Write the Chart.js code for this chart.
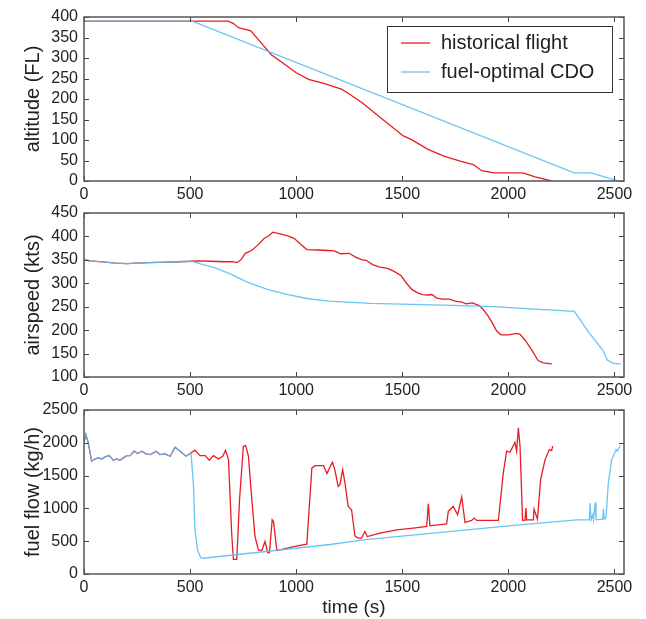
<!DOCTYPE html>
<html>
<head>
<meta charset="utf-8">
<script src="https://cdn.jsdelivr.net/npm/chart.js@4.4.1/dist/chart.umd.min.js"></script>
<style>
  html, body { margin: 0; padding: 0; background: #fff; }
  #wrap { position: relative; width: 646px; height: 619px; }
  canvas { position: absolute; left: 0; }
</style>
</head>
<body>
<div id="wrap">
  <canvas id="alt" style="top:0px" width="646" height="210"></canvas>
  <canvas id="spd" style="top:196px" width="646" height="210"></canvas>
  <canvas id="ff" style="top:393px" width="646" height="226"></canvas>
</div>
<script>
const seriesNames = ['historical flight', 'fuel-optimal CDO'];

// altitude (FL)
const altHistT = [0, 680, 705, 728, 760, 786, 830, 883, 950, 1000, 1058, 1130, 1213, 1240, 1311, 1408, 1505, 1544, 1621, 1699, 1777, 1835, 1874, 1932, 2068, 2126, 2204];
const altHistV = [390, 390, 384, 374, 370, 366, 340, 308, 283, 264, 248, 238, 224, 216, 191, 150, 110, 101, 77, 60, 48, 40, 25, 20, 20, 10, 0];
const altCdoT = [0, 510, 2310, 2390, 2520];
const altCdoV = [390, 390, 20, 20, 0];

// airspeed (kts)
const spdHistT = [0, 30, 100, 150, 200, 250, 300, 400, 450, 500, 530, 600, 660, 700, 720, 740, 760, 790, 820, 850, 870, 890, 930, 960, 990, 1020, 1050, 1100, 1150, 1180, 1210, 1250, 1280, 1310, 1330, 1360, 1390, 1430, 1460, 1495, 1520, 1545, 1570, 1595, 1620, 1640, 1660, 1690, 1720, 1750, 1780, 1800, 1830, 1860, 1880, 1905, 1925, 1945, 1965, 2000, 2040, 2055, 2080, 2110, 2140, 2165, 2205];
const spdHistV = [350, 348, 345, 343, 342, 343, 344, 345, 346, 347, 348, 347, 346, 346, 344, 350, 364, 370, 382, 396, 401, 409, 405, 401, 396, 384, 372, 371, 370, 369, 363, 364, 356, 350, 349, 340, 335, 332, 326, 316, 300, 287, 280, 276, 275, 276, 269, 266, 266, 262, 260, 256, 258, 253, 245, 230, 215, 198, 190, 190, 193, 191, 178, 158, 135, 130, 128];
const spdCdoT = [0, 30, 100, 150, 200, 250, 300, 400, 450, 510, 560, 612, 689, 767, 864, 961, 1058, 1155, 1350, 1544, 1738, 1932, 2126, 2311, 2379, 2447, 2466, 2495, 2530];
const spdCdoV = [350, 348, 345, 343, 342, 343, 344, 345, 346, 347, 340, 334, 320, 303, 287, 276, 267, 262, 257, 255, 253, 250, 245, 240, 195, 156, 136, 129, 128];

// fuel flow (kg/h)
const ffHistT = [0, 9, 20, 36, 52, 68, 83, 99, 119, 138, 154, 170, 185, 201, 217, 236, 252, 272, 292, 314, 340, 358, 382, 406, 429, 453, 481, 500, 523, 547, 571, 591, 610, 634, 654, 667, 681, 696, 704, 720, 733, 751, 762, 775, 791, 806, 822, 838, 853, 866, 874, 887, 893, 909, 924, 987, 1050, 1074, 1089, 1129, 1145, 1157, 1171, 1182, 1198, 1206, 1219, 1230, 1245, 1261, 1277, 1292, 1308, 1324, 1335, 1395, 1473, 1552, 1615, 1623, 1630, 1709, 1717, 1740, 1761, 1780, 1796, 1827, 1838, 1851, 1953, 1976, 1992, 2008, 2031, 2039, 2047, 2055, 2067, 2078, 2083, 2086, 2118, 2121, 2137, 2152, 2173, 2193, 2204, 2209];
const ffHistV = [2011, 2127, 2000, 1719, 1754, 1770, 1754, 1785, 1805, 1734, 1754, 1734, 1770, 1805, 1805, 1872, 1836, 1872, 1831, 1821, 1872, 1821, 1831, 1795, 1933, 1872, 1795, 1836, 1887, 1805, 1805, 1734, 1805, 1754, 1795, 1887, 1744, 622, 224, 224, 1132, 1948, 1958, 1795, 1132, 571, 367, 357, 495, 326, 326, 826, 800, 357, 367, 418, 454, 1617, 1652, 1652, 1530, 1617, 1703, 1591, 1336, 1362, 1591, 1387, 1030, 979, 581, 546, 546, 648, 571, 622, 673, 699, 724, 1071, 734, 765, 954, 1030, 903, 1173, 785, 816, 852, 816, 816, 1540, 1872, 1856, 2009, 1872, 2229, 1948, 816, 816, 1005, 826, 826, 989, 836, 1438, 1744, 1897, 1882, 1948];
const ffCdoT = [0, 9, 20, 36, 52, 68, 83, 99, 119, 138, 154, 170, 185, 201, 217, 236, 252, 272, 292, 314, 340, 358, 382, 406, 429, 453, 481, 500, 505, 516, 523, 535, 550, 563, 1160, 1316, 2000, 2322, 2382, 2385, 2390, 2398, 2401, 2409, 2413, 2445, 2448, 2452, 2460, 2471, 2487, 2508, 2514, 2527];
const ffCdoV = [2011, 2127, 2000, 1719, 1754, 1770, 1754, 1785, 1805, 1734, 1754, 1734, 1770, 1805, 1805, 1872, 1836, 1872, 1831, 1821, 1872, 1821, 1831, 1795, 1933, 1872, 1795, 1836, 1821, 1336, 673, 367, 250, 240, 450, 520, 734, 826, 826, 1081, 826, 903, 826, 1091, 826, 836, 989, 836, 852, 1387, 1744, 1897, 1872, 1958];

const xTicks = [0, 500, 1000, 1500, 2000, 2500];
const altTicks = [0, 50, 100, 150, 200, 250, 300, 350, 400];
const spdTicks = [100, 150, 200, 250, 300, 350, 400, 450];
const ffTicks = [0, 500, 1000, 1500, 2000, 2500];

const RED = 'rgba(232, 28, 36, 1)';
const CYAN = 'rgba(92, 190, 242, 0.9)';
const FONT = "'Liberation Sans', Arial, sans-serif";
const TXT = '#222';

function pts(t, v) { return t.map((x, i) => ({ x: x, y: v[i] })); }

const frame = {
    id: 'frame',
    afterDatasetsDraw(chart, args, opts) {
        const { ctx, chartArea: a, scales: { x, y } } = chart;
        ctx.save();
        ctx.strokeStyle = '#444';
        ctx.lineWidth = 1;
        ctx.beginPath();
        x.ticks.forEach(t => {
            const px = Math.round(x.getPixelForValue(t.value)) + 0.5;
            ctx.moveTo(px, a.bottom); ctx.lineTo(px, a.bottom - 5);
            ctx.moveTo(px, a.top); ctx.lineTo(px, a.top + 5);
        });
        y.ticks.forEach(t => {
            const py = Math.round(y.getPixelForValue(t.value)) + 0.5;
            ctx.moveTo(a.left, py); ctx.lineTo(a.left + 5, py);
            ctx.moveTo(a.right, py); ctx.lineTo(a.right - 5, py);
        });
        ctx.stroke();
        ctx.strokeStyle = '#555';
        ctx.lineWidth = 1.5;
        ctx.strokeRect(a.left, a.top, a.width, a.height);

        if (opts.legend) {
            const bx = 387, by = 26, bw = 225, bh = 66;
            ctx.fillStyle = '#fff';
            ctx.fillRect(bx, by, bw, bh);
            ctx.strokeStyle = '#333';
            ctx.lineWidth = 1;
            ctx.strokeRect(bx + 0.5, by + 0.5, bw, bh);
            const dsets = [chart.data.datasets[0], chart.data.datasets[1]];
            dsets.forEach((d, i) => {
                const ly = by + 17 + i * 29;
                ctx.strokeStyle = d.borderColor;
                ctx.lineWidth = 1.3;
                ctx.beginPath();
                ctx.moveTo(bx + 14, ly); ctx.lineTo(bx + 43, ly);
                ctx.stroke();
                ctx.fillStyle = TXT;
                ctx.font = '20px ' + FONT;
                ctx.textBaseline = 'middle';
                ctx.fillText(d.label, bx + 54, ly);
            });
        }
        ctx.restore();
    }
};

function makeChart(id, hist, cdo, yTicks, yTitle, xTitle, legend) {
    const ymin = yTicks[0], ymax = yTicks[yTicks.length - 1];
    return new Chart(document.getElementById(id), {
        type: 'line',
        data: {
            datasets: [
                { label: seriesNames[0], data: hist, borderColor: RED, borderWidth: 1.3, pointRadius: 0, tension: 0, order: 1 },
                { label: seriesNames[1], data: cdo, borderColor: CYAN, borderWidth: 1.3, pointRadius: 0, tension: 0, order: 0 }
            ]
        },
        options: {
            responsive: false,
            animation: false,
            events: [],
            layout: { padding: { top: 17, right: 22, left: 0, bottom: 0 } },
            plugins: { legend: { display: false }, tooltip: { enabled: false }, frame: { legend: legend } },
            scales: {
                x: {
                    type: 'linear', min: 0, max: 2545,
                    afterBuildTicks: s => { s.ticks = xTicks.map(v => ({ value: v })); },
                    afterFit: s => { s.height = id === 'ff' ? 45 : 29; },
                    grid: { display: false, drawTicks: false },
                    border: { display: false },
                    ticks: { font: { family: FONT, size: 16 }, color: TXT, padding: 4, maxRotation: 0, autoSkip: false, callback: v => String(v) },
                    title: { display: !!xTitle, text: xTitle, font: { family: FONT, size: 19 }, color: TXT, padding: { top: 0, bottom: 0 } }
                },
                y: {
                    type: 'linear', min: ymin, max: ymax,
                    afterBuildTicks: s => { s.ticks = yTicks.map(v => ({ value: v })); },
                    afterFit: s => { s.width = 84; },
                    grid: { display: false, drawTicks: false },
                    border: { display: false },
                    ticks: { font: { family: FONT, size: 16 }, color: TXT, padding: 6, autoSkip: false, callback: v => String(v) },
                    title: { display: true, text: yTitle, font: { family: FONT, size: 20 }, color: TXT, padding: { top: 21, bottom: 0 } }
                }
            }
        },
        plugins: [frame]
    });
}

makeChart('alt', pts(altHistT, altHistV), pts(altCdoT, altCdoV), altTicks, 'altitude (FL)', '', true);
makeChart('spd', pts(spdHistT, spdHistV), pts(spdCdoT, spdCdoV), spdTicks, 'airspeed (kts)', '', false);
makeChart('ff', pts(ffHistT, ffHistV), pts(ffCdoT, ffCdoV), ffTicks, 'fuel flow (kg/h)', 'time (s)', false);
</script>
</body>
</html>
